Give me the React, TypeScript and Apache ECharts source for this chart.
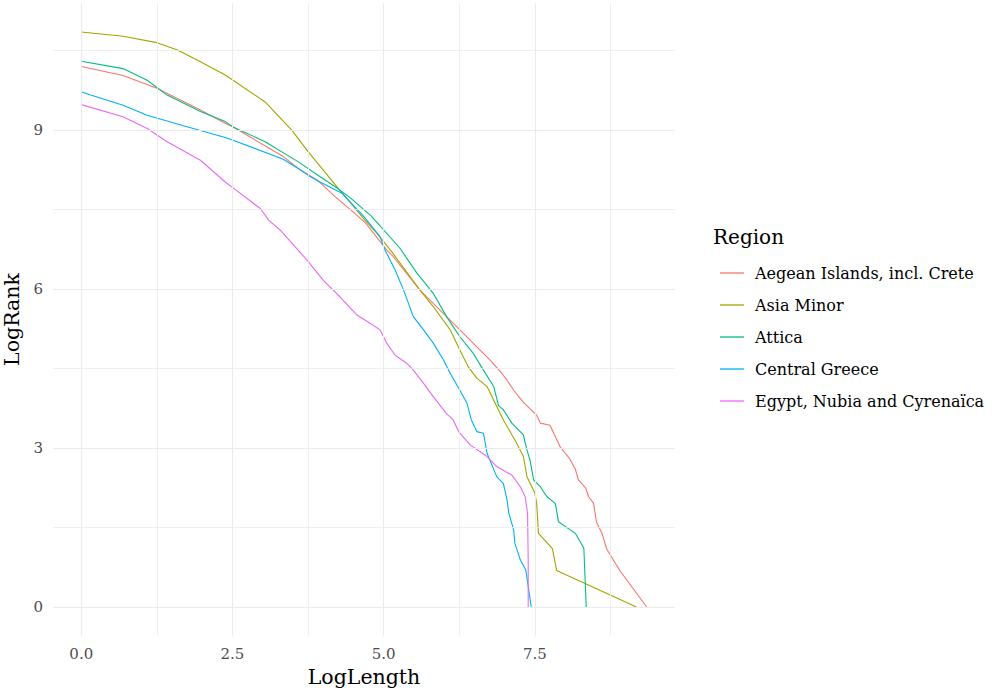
import React, { useEffect, useRef } from 'react';
import * as echarts from 'echarts';

const regions = [
  'Aegean Islands, incl. Crete',
  'Asia Minor',
  'Attica',
  'Central Greece',
  'Egypt, Nubia and Cyrenaïca',
];
const colors = ['#F8766D', '#A3A500', '#00BF7D', '#00B0F6', '#E76BF3'];

const aegean: [number, number][] = [
  [0, 10.2], [0.69, 10.03], [1.25, 9.79], [1.97, 9.38], [2.38, 9.13], [2.51, 9.06],
  [3.34, 8.5], [3.62, 8.25], [3.9, 8.06], [4.2, 7.74], [4.45, 7.5], [4.7, 7.25],
  [5.05, 6.74], [5.16, 6.61], [5.6, 5.98], [5.82, 5.73], [6.04, 5.48], [6.26, 5.23],
  [6.54, 4.91], [6.76, 4.66], [6.93, 4.44], [7.04, 4.28], [7.15, 4.09], [7.31, 3.86],
  [7.53, 3.62], [7.59, 3.47], [7.75, 3.43], [7.92, 3.02], [8.08, 2.79], [8.17, 2.6],
  [8.22, 2.4], [8.34, 2.25], [8.39, 2.08], [8.47, 1.96], [8.52, 1.6], [8.61, 1.39],
  [8.69, 1.09], [8.91, 0.68], [9.35, 0],
];
const asiaMinor: [number, number][] = [
  [0, 10.85], [0.69, 10.77], [1.25, 10.65], [1.59, 10.51], [1.97, 10.29], [2.38, 10.04],
  [2.51, 9.94], [3.04, 9.53], [3.48, 9.0], [3.76, 8.58], [4.25, 7.9], [4.69, 7.3],
  [4.89, 7.05], [5.11, 6.74], [5.6, 5.98], [5.82, 5.67], [6.1, 5.23], [6.26, 4.85],
  [6.4, 4.53], [6.54, 4.32], [6.71, 4.16], [6.82, 3.9], [6.98, 3.53], [7.2, 3.09],
  [7.31, 2.84], [7.37, 2.46], [7.5, 2.15], [7.53, 1.96], [7.56, 1.39], [7.79, 1.1],
  [7.86, 0.69], [9.18, 0],
];
const attica: [number, number][] = [
  [0, 10.3], [0.69, 10.16], [1.09, 9.94], [1.42, 9.66], [1.97, 9.35], [2.38, 9.16],
  [2.51, 9.06], [3.04, 8.78], [3.59, 8.4], [3.95, 8.12], [4.2, 7.93], [4.45, 7.72],
  [4.8, 7.37], [5.27, 6.77], [5.55, 6.3], [5.82, 5.92], [6.04, 5.48], [6.26, 5.1],
  [6.48, 4.79], [6.65, 4.47], [6.82, 4.16], [6.9, 3.8], [6.98, 3.72], [7.12, 3.47],
  [7.31, 3.25], [7.37, 2.96], [7.42, 2.77], [7.48, 2.4], [7.59, 2.27], [7.7, 2.08],
  [7.84, 1.95], [7.89, 1.61], [8.17, 1.39], [8.31, 1.11], [8.35, 0],
];
const centralGreece: [number, number][] = [
  [0, 9.72], [0.69, 9.47], [1.09, 9.28], [1.69, 9.08], [2.38, 8.86], [2.51, 8.81],
  [3.34, 8.45], [3.62, 8.25], [3.76, 8.14], [3.9, 8.05], [4.31, 7.81], [4.67, 7.37],
  [4.94, 6.99], [5.02, 6.74], [5.19, 6.36], [5.33, 5.98], [5.49, 5.48], [5.66, 5.23],
  [5.82, 4.98], [5.99, 4.66], [6.1, 4.41], [6.26, 4.09], [6.38, 3.84], [6.45, 3.53],
  [6.54, 3.31], [6.65, 3.28], [6.71, 2.9], [6.87, 2.46], [6.98, 2.33], [7.04, 2.02],
  [7.07, 1.77], [7.15, 1.45], [7.17, 1.2], [7.26, 0.89], [7.35, 0.7], [7.44, 0],
];
const egypt: [number, number][] = [
  [0, 9.48], [0.69, 9.25], [1.09, 9.03], [1.42, 8.78], [1.97, 8.43], [2.38, 8.02],
  [2.52, 7.9], [2.96, 7.52], [3.1, 7.3], [3.29, 7.11], [3.73, 6.55], [4.0, 6.17],
  [4.28, 5.85], [4.56, 5.51], [4.78, 5.35], [4.94, 5.23], [5.05, 4.98], [5.19, 4.75],
  [5.38, 4.6], [5.49, 4.47], [5.66, 4.22], [5.82, 3.97], [6.04, 3.65], [6.15, 3.53],
  [6.24, 3.31], [6.43, 3.06], [6.71, 2.84], [6.87, 2.65], [7.12, 2.49], [7.26, 2.27],
  [7.34, 2.08], [7.38, 1.77], [7.39, 0.89], [7.39, 0],
];
const seriesData = [aegean, asiaMinor, attica, centralGreece, egypt];

const xTicks = [0, 2.5, 5, 7.5];
const xMinor = [1.25, 3.75, 6.25, 8.75];
const yTicks = [0, 3, 6, 9];
const yMinor = [1.5, 4.5, 7.5, 10.5];

const FONT = 'DejaVu Serif';

export default function App() {
  const ref = useRef<HTMLDivElement>(null);
  useEffect(() => {
    const chart = echarts.init(ref.current!, null, { renderer: 'svg' });
    const gridLine = (w: number) => ({ color: '#ebebeb', type: 'solid', width: w });
    chart.setOption({
      animation: false,
      backgroundColor: '#ffffff',
      title: {
        text: 'Region',
        left: 708,
        top: 222,
        textStyle: { fontFamily: FONT, fontSize: 20, fontWeight: 'normal', color: '#000' },
      },
      legend: {
        data: regions.map((name, i) => ({
          name,
          icon: 'rect',
          itemStyle: { color: colors[i], borderWidth: 0 },
        })),
        orient: 'vertical',
        left: 715,
        top: 260,
        itemWidth: 24,
        itemHeight: 1.3,
        itemGap: 16,
        selectedMode: false,
        textStyle: {
          fontFamily: FONT,
          fontSize: 16,
          lineHeight: 16,
          color: '#000',
          padding: [0, 0, 0, 6],
        },
      },
      grid: { left: 53, right: 322, top: 3.3, bottom: 55.25, outerBoundsMode: 'none', containLabel: false },
      xAxis: {
        type: 'value',
        min: -0.4675,
        max: 9.8175,
        name: 'LogLength',
        nameLocation: 'middle',
        nameGap: 31,
        nameTextStyle: { fontFamily: FONT, fontSize: 20.5, color: '#000' },
        axisLine: { show: false },
        axisTick: { show: false },
        splitLine: { show: false },
        axisLabel: {
          customValues: xTicks,
          formatter: (v: number) => v.toFixed(1),
          fontFamily: FONT,
          fontSize: 15,
          color: '#4d4d4d',
          margin: 11,
        },
      },
      yAxis: {
        type: 'value',
        min: -0.5425,
        max: 11.3925,
        name: 'LogRank',
        nameLocation: 'middle',
        nameRotate: 90,
        nameGap: 27,
        nameTextStyle: { fontFamily: FONT, fontSize: 20.5, color: '#000' },
        axisLine: { show: false },
        axisTick: { show: false },
        splitLine: { show: false },
        axisLabel: {
          customValues: yTicks,
          formatter: (v: number) => String(Math.round(v)),
          fontFamily: FONT,
          fontSize: 15,
          color: '#4d4d4d',
          margin: 10,
        },
      },
      series: [
        {
          name: 'grid',
          type: 'line',
          data: [],
          z: 1,
          markLine: {
            silent: true,
            symbol: ['none', 'none'],
            label: { show: false },
            animation: false,
            data: [
              ...xTicks.map((v) => ({ xAxis: v, lineStyle: gridLine(1.1) })),
              ...xMinor.map((v) => ({ xAxis: v, lineStyle: gridLine(0.8) })),
              ...yTicks.map((v) => ({ yAxis: v, lineStyle: gridLine(1.1) })),
              ...yMinor.map((v) => ({ yAxis: v, lineStyle: gridLine(0.8) })),
            ],
          },
        },
        ...regions.map((name, i) => ({
          name,
          type: 'line',
          data: seriesData[i],
          symbol: 'none',
          z: 3,
          color: colors[i],
          lineStyle: { color: colors[i], width: 1.1 },
        })),
      ],
    });
    return () => chart.dispose();
  }, []);
  return (
    <div
      ref={ref}
      style={{ position: 'fixed', left: 0, top: 0, width: 997, height: 691, background: '#fff' }}
    />
  );
}
